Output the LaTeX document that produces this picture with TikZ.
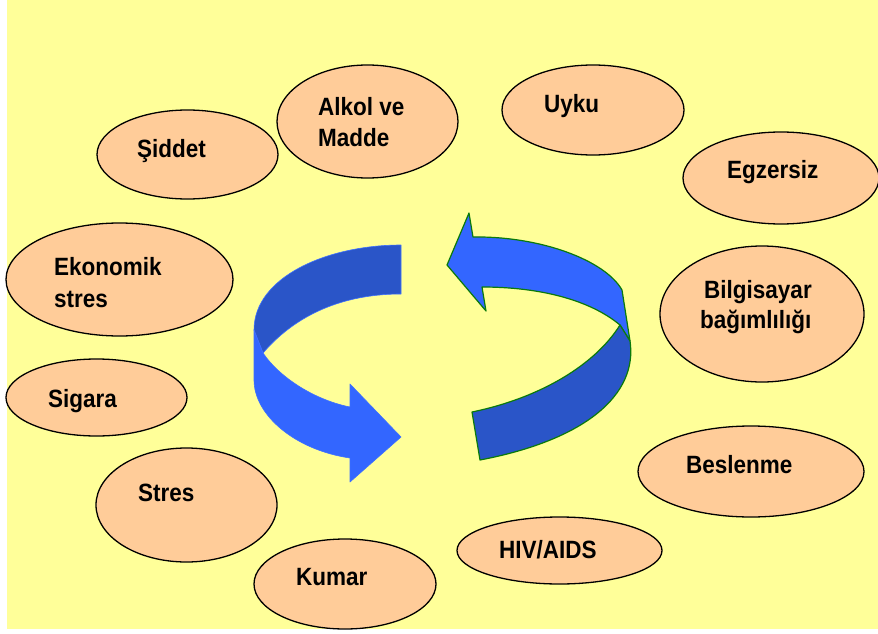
\documentclass[tikz,border=0pt]{standalone}
\usepackage{fontspec}
\setmainfont[FakeStretch=0.9]{Liberation Sans}
\usetikzlibrary{shapes.geometric}
\definecolor{bgyellow}{HTML}{FFFF99}
\definecolor{ellfill}{HTML}{FFCC99}
\definecolor{lightblue}{HTML}{3366FF}
\definecolor{darkblue}{HTML}{2A55C8}
\definecolor{edgeblue}{HTML}{3D70FF}
\definecolor{edgegreen}{HTML}{0B7A0B}
\tikzset{
  ell/.style={ellipse, draw=black, line width=1.3pt, fill=ellfill, inner sep=0pt},
  lbl/.style={anchor=base west, inner sep=0pt, font=\bfseries\fontsize{25}{31}\selectfont},
  lightpart/.style={fill=lightblue, draw=edgeblue, line width=0.6pt, line join=round},
  darkpart/.style={fill=darkblue, draw=edgeblue, line width=0.6pt, line join=round},
  rlight/.style={fill=lightblue, draw=edgegreen, line width=1.2pt, line join=round},
  rdark/.style={fill=darkblue, draw=edgegreen, line width=1.2pt, line join=round}
}
\begin{document}
\begin{tikzpicture}[x=1pt,y=-1pt]
\useasboundingbox (0,0) rectangle (878,634);
\fill[white] (0,0) rectangle (878,634);
\fill[bgyellow] (7,0) rectangle (878,629);

% ellipses
\node[ell, minimum width=181pt, minimum height=89pt] (siddet) at (187.5,154.5) {};
\node[ell, minimum width=181pt, minimum height=113pt] (alkol) at (367.5,121.5) {};
\node[ell, minimum width=182pt, minimum height=90pt] (uyku) at (593,110) {};
\node[ell, minimum width=196pt, minimum height=92pt] (egzersiz) at (781,178) {};
\node[ell, minimum width=204pt, minimum height=136pt] (bilgisayar) at (762,314) {};
\node[ell, minimum width=227pt, minimum height=113pt] (ekonomik) at (119.5,279.5) {};
\node[ell, minimum width=181pt, minimum height=77pt] (sigara) at (96.5,397.5) {};
\node[ell, minimum width=181pt, minimum height=114pt] (stres) at (186.5,505) {};
\node[ell, minimum width=226pt, minimum height=91pt] (beslenme) at (751,471.5) {};
\node[ell, minimum width=205pt, minimum height=67pt] (hiv) at (559.5,550.5) {};
\node[ell, minimum width=182pt, minimum height=90pt] (kumar) at (345,584) {};

% labels
\node[lbl] (tsiddet) at (137,157) {Şiddet};
\node[lbl] (talkol1) at (318,115) {Alkol ve};
\node[lbl] (talkol2) at (318,146) {Madde};
\node[lbl] (tuyku) at (544,112) {Uyku};
\node[lbl] (tegzersiz) at (727,178) {Egzersiz};
\node[lbl] (tbilg1) at (704,298) {Bilgisayar};
\node[lbl] (tbilg2) at (700,328) {bağımlılığı};
\node[lbl] (tekon1) at (54,275) {Ekonomik};
\node[lbl] (tekon2) at (54,307) {stres};
\node[lbl] (tsigara) at (48,407) {Sigara};
\node[lbl] (tstres) at (138,501) {Stres};
\node[lbl] (tbeslenme) at (686,473) {Beslenme};
\node[lbl] (thiv) at (499,558) {HIV/AIDS};
\node[lbl] (tkumar) at (296,585) {Kumar};

% left arrow (curving down, pointing right)
\path[darkpart] (401,245) .. controls (327,245) and (254,277) .. (254,330)
  -- (263,353) .. controls (300,310) and (350,294) .. (401,294) -- cycle;
\path[lightpart] (254,330) -- (254,380) .. controls (254,415) and (295,450) .. (350,458)
  -- (350,482) -- (401,437) -- (350,384) -- (350,407)
  .. controls (315,400) and (280,378) .. (263,353) -- cycle;

% right arrow (curving up, pointing left)
\path[rlight] (447,265) -- (469,213) -- (473,237)
  .. controls (540,236) and (605,260) .. (622,290) -- (630,341) -- (620,325)
  .. controls (590,300) and (540,287) .. (482,287) -- (486,311) -- cycle;
\path[rdark] (620,325) -- (630,341) .. controls (638,395) and (585,440) .. (480,460)
  -- (472,412) .. controls (540,398) and (595,365) .. (620,325) -- cycle;
\end{tikzpicture}
\end{document}
